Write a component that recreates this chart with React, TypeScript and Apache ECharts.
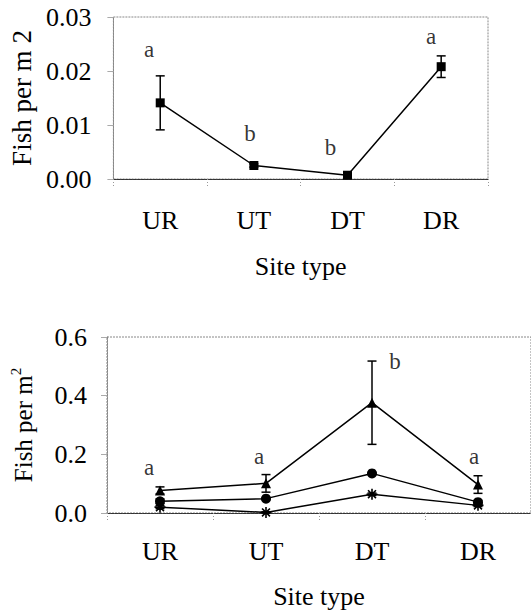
import React, { useEffect, useRef } from "react";
import * as echarts from "echarts";

const categories = ["UR", "UT", "DT", "DR"];

// Top panel
const topMean = [0.0141, 0.0025, 0.0007, 0.0208];
const topErr = [0.005, 0.0003, 0.0002, 0.002];
const topLetters = ["a", "b", "b", "a"];
const topLetterY = [0.0239, 0.0085, 0.0059, 0.0263];
const topLetterDx = [-11, -4, -17, -10];
const topYTicks = { min: 0, max: 0.03, interval: 0.01 };

// Bottom panel
const triMean = [0.077, 0.101, 0.376, 0.097];
const triErr = [0.012, 0.03, 0.142, 0.03];
const circMean = [0.04, 0.049, 0.135, 0.037];
const circErr = [0.008, 0.004, 0.004, 0.006];
const starMean = [0.02, 0.002, 0.064, 0.026];
const starErr = [0.005, 0.002, 0.004, 0.004];
const botLetters = ["a", "a", "b", "a"];
const botLetterY = [0.154, 0.191, 0.516, 0.191];
const botLetterDx = [-11, -7, 23, -4];
const botYTicks = { min: 0, max: 0.6, interval: 0.2 };

const FONT = "Liberation Serif";
const STAR =
  "path://M5,0 L5,10 M0,5 L10,5 M1.4,1.4 L8.6,8.6 M8.6,1.4 L1.4,8.6";

function errData(mean: number[], err: number[]) {
  return mean.map((m, i) => [i, m - err[i], m + err[i]]);
}

function errSeries(mean: number[], err: number[], axisIdx: number) {
  return {
    type: "custom",
    xAxisIndex: axisIdx,
    yAxisIndex: axisIdx,
    data: errData(mean, err),
    z: 1,
    renderItem: (_p: any, api: any) => {
      const x = api.value(0);
      const lo = api.coord([x, api.value(1)]);
      const hi = api.coord([x, api.value(2)]);
      const cap = 4.5;
      const st = { stroke: "#000", lineWidth: 1.5 };
      return {
        type: "group",
        children: [
          { type: "line", shape: { x1: hi[0], y1: hi[1], x2: lo[0], y2: lo[1] }, style: st },
          { type: "line", shape: { x1: hi[0] - cap, y1: hi[1], x2: hi[0] + cap, y2: hi[1] }, style: st },
          { type: "line", shape: { x1: lo[0] - cap, y1: lo[1], x2: lo[0] + cap, y2: lo[1] }, style: st },
        ],
      };
    },
  };
}

function letterSeries(letters: string[], ys: number[], dx: number[], axisIdx: number) {
  return {
    type: "scatter",
    xAxisIndex: axisIdx,
    yAxisIndex: axisIdx,
    symbolSize: 1,
    itemStyle: { color: "rgba(0,0,0,0)" },
    silent: true,
    data: ys.map((y, i) => ({
      value: [i, y],
      label: {
        show: true,
        position: "inside",
        offset: [dx[i], 0],
        formatter: letters[i],
        color: "#000",
        fontSize: 23,
        fontFamily: FONT,
      },
    })),
  };
}

function lineSeries(mean: number[], symbol: string, size: number, axisIdx: number, extra: any = {}) {
  return {
    type: "line",
    xAxisIndex: axisIdx,
    yAxisIndex: axisIdx,
    data: mean.map((m, i) => [i, m]),
    symbol,
    symbolSize: size,
    showSymbol: true,
    z: 3,
    lineStyle: { color: "#000", width: 1.5 },
    itemStyle: { color: "#000", borderColor: "#000", borderWidth: 0, ...extra },
  };
}

const xAxisBase = (gridIndex: number, margin: number, nameGap: number) => ({
  type: "category",
  gridIndex,
  data: categories,
  boundaryGap: true,
  name: "Site type",
  nameLocation: "middle",
  nameGap,
  nameTextStyle: { fontSize: 26, fontFamily: FONT, color: "#000" },
  axisLine: { show: true, lineStyle: { color: "#333", width: 1.2, type: [3, 1] } },
  axisTick: { show: true, length: 8, lineStyle: { color: "#999", type: [1, 2] } },
  axisLabel: { fontSize: 26, fontFamily: FONT, color: "#000", margin },
  splitLine: { show: false },
});

export default function App() {
  const ref = useRef<HTMLDivElement>(null);
  useEffect(() => {
    if (!ref.current) return;
    const chart = echarts.init(ref.current, undefined, { renderer: "svg" });
    chart.setOption({
      animation: false,
      backgroundColor: "#fff",
      textStyle: { fontFamily: FONT },
      grid: [
        {
          left: 105, top: 17, width: 383, height: 162,
          show: true, borderColor: "#888", borderWidth: 1, borderType: [2, 1],
        },
        {
          left: 103, top: 337, width: 429, height: 176,
          show: true, borderColor: "#888", borderWidth: 1, borderType: [2, 1],
        },
      ],
      xAxis: [xAxisBase(0, 28, 74), xAxisBase(1, 25, 70)],
      yAxis: [
        {
          type: "value",
          gridIndex: 0,
          ...topYTicks,
          name: "Fish per m 2",
          nameLocation: "middle",
          nameGap: 78,
          nameTextStyle: { fontSize: 27, fontFamily: FONT, color: "#000" },
          axisLine: { show: true, lineStyle: { color: "#888", type: [2, 1] } },
          axisTick: { show: true, length: 6, lineStyle: { color: "#aaa" } },
          axisLabel: {
            fontSize: 26, fontFamily: FONT, color: "#000", margin: 22,
            formatter: (v: number) => v.toFixed(2),
          },
          splitLine: { show: false },
        },
        {
          type: "value",
          gridIndex: 1,
          ...botYTicks,
          name: "Fish per m{s|2}",
          nameLocation: "middle",
          nameGap: 69,
          nameTextStyle: {
            fontSize: 25, fontFamily: FONT, color: "#000", lineHeight: 30,
            rich: { s: { fontSize: 15, fontFamily: FONT, color: "#000", verticalAlign: "top", lineHeight: 30 } },
          },
          axisLine: { show: true, lineStyle: { color: "#888", type: [2, 1] } },
          axisTick: { show: true, length: 6, lineStyle: { color: "#aaa" } },
          axisLabel: {
            fontSize: 26, fontFamily: FONT, color: "#000", margin: 20,
            formatter: (v: number) => v.toFixed(1),
          },
          splitLine: { show: false },
        },
      ],
      series: [
        errSeries(topMean, topErr, 0),
        lineSeries(topMean, "rect", 9, 0),
        letterSeries(topLetters, topLetterY, topLetterDx, 0),
        errSeries(triMean, triErr, 1),
        errSeries(circMean, circErr, 1),
        errSeries(starMean, starErr, 1),
        lineSeries(triMean, "triangle", 10, 1),
        lineSeries(circMean, "circle", 10, 1),
        lineSeries(starMean, STAR, 11, 1, { borderWidth: 1.6 }),
        letterSeries(botLetters, botLetterY, botLetterDx, 1),
      ],
    });
    return () => chart.dispose();
  }, []);
  return (
    <div
      ref={ref}
      style={{ position: "fixed", left: 0, top: 0, width: 531, height: 610 }}
    />
  );
}
